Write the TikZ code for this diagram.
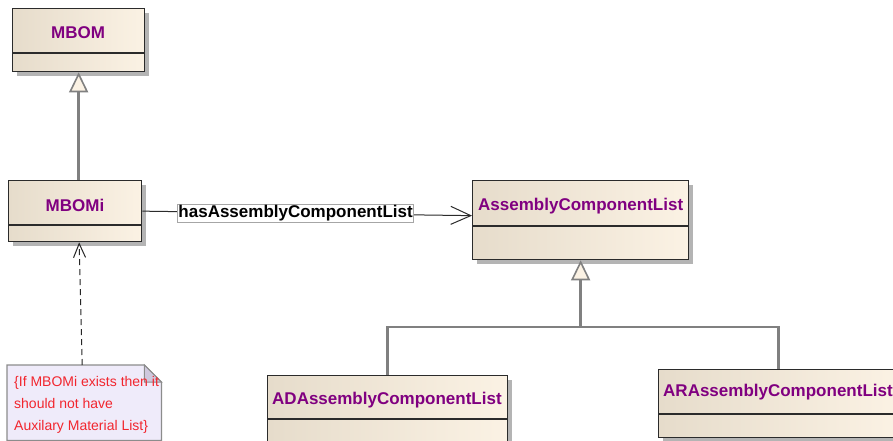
\documentclass[tikz,border=0pt]{standalone}
\usepackage{fontspec}
\setmainfont{Liberation Sans}
\usetikzlibrary{arrows.meta,calc,shadows}
\definecolor{boxL}{HTML}{E6DCCB}
\definecolor{boxR}{HTML}{FBF2E4}
\definecolor{boxline}{HTML}{2B2B2B}
\definecolor{clsname}{HTML}{800080}
\definecolor{genline}{HTML}{808080}
\definecolor{shadowc}{HTML}{B4B4B4}
\definecolor{notefill}{HTML}{EFEBFA}
\definecolor{notefold}{HTML}{CFC8DD}
\definecolor{noteline}{HTML}{8C8C8C}
\definecolor{notetext}{HTML}{F2262E}
\tikzset{
  cls/.style={rectangle, draw=boxline, line width=1.3pt, left color=boxL, right color=boxR,
    inner sep=0pt, anchor=north west,
    drop shadow={shadow xshift=4pt, shadow yshift=-4pt, fill=shadowc, opacity=1}},
  divline/.style={draw=boxline, line width=1.1pt},
  clstext/.style={text=clsname, font=\bfseries\fontsize{17}{20}\selectfont, inner sep=0pt},
  gen/.style={draw=genline, line width=2.5pt},
  gentip/.style={-{Triangle[length=20pt, width=19pt, fill=boxR, line width=1.6pt]}},
  assoc/.style={draw=boxline, line width=1pt, -{Straight Barb[length=20pt, width=18pt, line width=1pt]}},
  dep/.style={draw=black!85, line width=1pt, dashed, dash pattern=on 6pt off 4pt,
    -{Straight Barb[length=14pt, width=12pt, line width=1pt]}},
  lbl/.style={draw=gray!70, fill=white, inner sep=1.2pt, font=\bfseries\fontsize{17}{19}\selectfont, text=black},
}
\begin{document}
\begin{tikzpicture}[x=1pt, y=-1pt]
\useasboundingbox[fill=white] (0,0) rectangle (893,441);

% MBOM
\node[cls, minimum width=132pt, minimum height=63pt] (mbom) at (12,8) {};
\draw[divline] (mbom.west |- 0,53) -- (mbom.east |- 0,53);
\node[clstext] (mbomt) at (78,33) {MBOM};

% MBOMi
\node[cls, minimum width=133pt, minimum height=61pt] (mbomi) at (8,180) {};
\draw[divline] (mbomi.west |- 0,225) -- (mbomi.east |- 0,225);
\node[clstext] (mbomit) at (75,205) {MBOMi};

% AssemblyComponentList
\node[cls, minimum width=216pt, minimum height=79pt] (acl) at (472,180) {};
\draw[divline] (acl.west |- 0,226) -- (acl.east |- 0,226);
\node[clstext, anchor=west] (aclt) at (478,206) {AssemblyComponentList};

% ADAssemblyComponentList
\node[cls, minimum width=240pt, minimum height=66pt] (ad) at (267,375) {};
\draw[divline] (ad.west |- 0,419) -- (ad.east |- 0,419);
\node[clstext, anchor=west] (adt) at (272,400) {ADAssemblyComponentList};

% ARAssemblyComponentList
\node[cls, minimum width=240pt, minimum height=68pt] (ar) at (658,369) {};
\draw[divline] (ar.west |- 0,414) -- (ar.east |- 0,414);
\node[clstext, anchor=west] (art) at (663,392) {ARAssemblyComponentList};

% Note
\node[rectangle, inner sep=0pt, anchor=north west, minimum width=154pt, minimum height=75pt] (note) at (7,365) {};
\draw[draw=noteline, fill=notefill, line width=1.2pt]
  (note.north west) -- ($(note.north east)+(-17,0)$) -- ($(note.north east)+(0,17)$)
  -- (note.south east) -- (note.south west) -- cycle;
\draw[draw=noteline, fill=notefold, line width=1pt]
  ($(note.north east)+(-17,0)$) -- ($(note.north east)+(-17,17)$) -- ($(note.north east)+(0,17)$) -- cycle;
\node[anchor=north west, align=left, inner sep=0pt, text=notetext,
  font=\fontsize{14}{22}\selectfont] (notet) at (14,376)
  {\{If MBOMi exists then it\\should not have\\Auxilary Material List\}};

% Generalization MBOMi -> MBOM
\draw[gen, gentip] (mbomi.north -| mbom.south) -- (mbom.south);

% Generalization AD/AR -> AssemblyComponentList
\coordinate (junc) at (acl.south |- 0,327);
\draw[gen] (ad.north) -- (ad.north |- junc) -- (ar.north |- junc) -- (ar.north);
\draw[gen, gentip] (junc) -- (acl.south);

% Association
\draw[assoc] (mbomi.east) -- node[lbl, pos=0.465] (assoclbl) {hasAssemblyComponentList} ($(acl.west)+(0,-4.5)$);

% Note dependency
\draw[dep] ($(note.north)+(-2,0)$) -- ($(mbomi.south)+(4,0)$);
\end{tikzpicture}
\end{document}
